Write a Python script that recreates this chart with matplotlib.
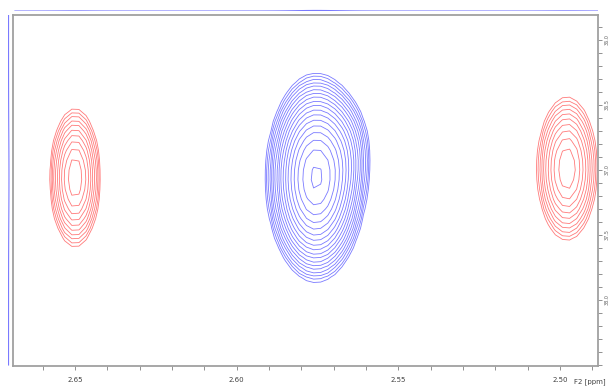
import numpy as np
import matplotlib
matplotlib.use("Agg")
import matplotlib.pyplot as plt
from matplotlib.ticker import MultipleLocator, FormatStrFormatter

# peak list: F2 (1H ppm), F1 (ppm), widths, height
peak_f2 = [2.650, 2.5755, 2.5665, 2.4978]
peak_f1 = [37.06, 37.06, 36.85, 36.99]
peak_w2 = [0.0041, 0.0062, 0.0045, 0.0049]
peak_w1 = [0.28, 0.32, 0.22, 0.29]
peak_amp = [-6.0, 23.0, 2.0, -6.0]

x_ticks = [2.65, 2.60, 2.55, 2.50]
y_ticks = [36.0, 36.5, 37.0, 37.5, 38.0]

pos_color = "#7a7aff"
neg_color = "#ff7a7a"

# coarse grid like the processed spectrum
f2 = np.arange(2.4882, 2.6692, 0.0022)
f1 = np.arange(35.80, 38.52, 0.075)
X, Y = np.meshgrid(f2, f1)
Z = np.zeros_like(X)
for c2, c1, w2, w1, a in zip(peak_f2, peak_f1, peak_w2, peak_w1, peak_amp):
    Z += a * np.exp(-0.5 * ((X - c2) / w2) ** 2 - 0.5 * ((Y - c1) / w1) ** 2)

levels = 1.0 * 1.2 ** np.arange(0, 20)

fig = plt.figure(figsize=(6.15, 3.88), dpi=100)
ax = fig.add_axes([13 / 615, 1 - 366 / 388, 585 / 615, 351 / 388])
ax.contour(X, Y, Z, levels=levels, colors=pos_color, linewidths=0.6)
ax.contour(X, Y, -Z, levels=levels, colors=neg_color, linewidths=0.6)

ax.set_xlim(2.6692, 2.4882)
ax.set_ylim(36.0 + 326 / 130, 36.0 - 25 / 130)

for s in ax.spines.values():
    s.set_color("#a0a0a0")
    s.set_linewidth(1.3)

ax.xaxis.set_minor_locator(MultipleLocator(0.01))
ax.xaxis.set_major_formatter(FormatStrFormatter("%.2f"))
ax.set_xticks(x_ticks)
ax.tick_params(axis="x", which="both", direction="out", length=3, width=0.6,
               colors="#808080", labelsize=5, labelcolor="#404040", pad=5)

ax.yaxis.tick_right()
ax.set_yticks(y_ticks)
ax.yaxis.set_minor_locator(MultipleLocator(0.1))
ax.yaxis.set_major_formatter(FormatStrFormatter("%.1f"))
ax.tick_params(axis="y", which="both", direction="out", length=3, width=0.6,
               colors="#808080", labelsize=3.5, labelcolor="#606060", pad=2)
for lab in ax.get_yticklabels():
    lab.set_rotation(90)
    lab.set_va("center")

fig.text(590 / 615, 1 - 382 / 388, "F2 [ppm]", fontsize=5, color="#404040",
         ha="center", va="center")

# 1D projections
proj_top = np.abs(Z).max(axis=0)
axt = fig.add_axes([13 / 615, 1 - 11 / 388, 585 / 615, 6 / 388])
axt.plot(f2, proj_top, color=pos_color, lw=0.8)
axt.set_xlim(2.6692, 2.4882)
axt.set_ylim(0, 250)
axt.axis("off")

proj_left = np.abs(Z).max(axis=1)
axl = fig.add_axes([8 / 615, 1 - 380 / 388, 6 / 615, 365 / 388])
axl.plot(proj_left, f1, color=pos_color, lw=0.8)
axl.set_ylim(36.0 + 340 / 130, 36.0 - 25 / 130)
axl.set_xlim(-30, 300)
axl.axis("off")

fig.savefig("out.png", dpi=100)
